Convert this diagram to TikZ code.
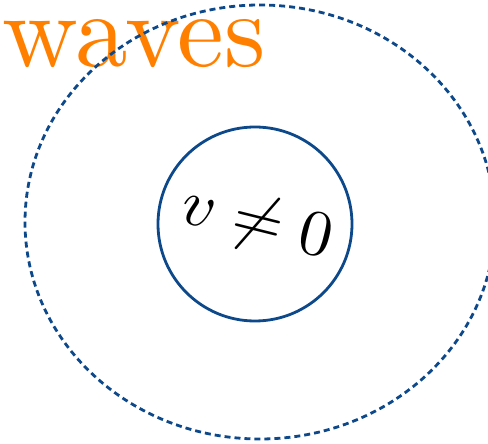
\documentclass[tikz,border=0pt]{standalone}
\usepackage{amsmath, amssymb}
\definecolor{myblue}  {RGB}{12, 72, 138}
\definecolor{myorange}{RGB}{255, 128, 0}
\usetikzlibrary{positioning}

\begin{document}
\begin{tikzpicture}[x=1pt, y=1pt, every node/.style={font=\normalsize, align=center, inner sep=0pt}]
		\useasboundingbox (0,0) rectangle (488,444);
		\node[anchor=base west, text=myorange, scale=10.5] (waves) at (0.5,377) {waves};
		\draw[myblue, line width=2.8pt, dash pattern=on 6pt off 4pt] (260,222) ellipse [x radius=235, y radius=217];
		\node[circle, draw=myblue, line width=2.8pt, minimum size=194pt] (core) at (255,220) {};
		\node[rotate=-14, scale=6.5] (label) at (257,220) {$v \neq 0$};
	\end{tikzpicture}
\end{document}
